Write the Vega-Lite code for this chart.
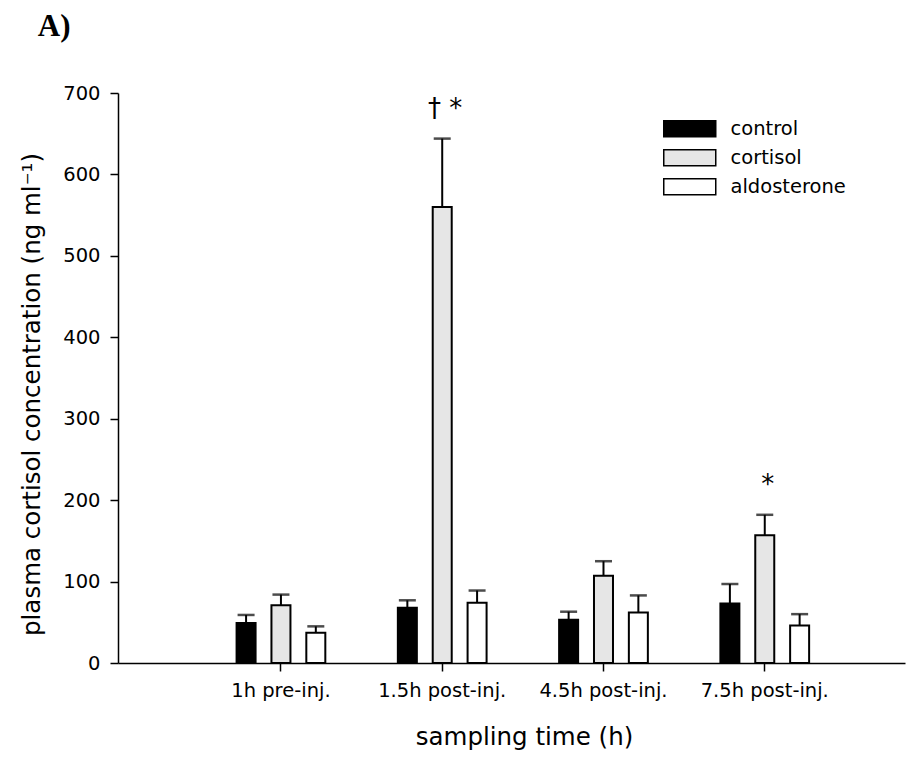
{
  "$schema": "https://vega.github.io/schema/vega-lite/v6.json",
  "autosize": "none",
  "width": 787,
  "height": 570,
  "padding": {"left": 118, "top": 93, "right": 16, "bottom": 98},
  "background": "white",
  "title": {
    "text": "A)",
    "anchor": "start",
    "frame": "bounds",
    "font": "Liberation Serif",
    "fontSize": 31,
    "fontWeight": "bold",
    "color": "black",
    "offset": 40,
    "dx": 18
  },
  "config": {
    "view": {"stroke": null},
    "axis": {
      "labelFont": "DejaVu Sans",
      "titleFont": "DejaVu Sans",
      "labelColor": "black",
      "titleColor": "black",
      "domainColor": "black",
      "tickColor": "black",
      "grid": false,
      "titleFontWeight": "normal",
      "labelFontSize": 19.5,
      "titleFontSize": 24.5
    },
    "legend": {"labelFont": "DejaVu Sans", "labelColor": "black", "labelFontSize": 19.5}
  },
  "datasets": {
    "bars": [
      {"time": "1h pre-inj.", "group": "control", "mean": 49, "upper": 59},
      {"time": "1h pre-inj.", "group": "cortisol", "mean": 71, "upper": 84},
      {"time": "1h pre-inj.", "group": "aldosterone", "mean": 37, "upper": 45},
      {"time": "1.5h post-inj.", "group": "control", "mean": 68, "upper": 77},
      {"time": "1.5h post-inj.", "group": "cortisol", "mean": 560, "upper": 644},
      {"time": "1.5h post-inj.", "group": "aldosterone", "mean": 74, "upper": 89},
      {"time": "4.5h post-inj.", "group": "control", "mean": 53, "upper": 63},
      {"time": "4.5h post-inj.", "group": "cortisol", "mean": 107, "upper": 125},
      {"time": "4.5h post-inj.", "group": "aldosterone", "mean": 62, "upper": 83},
      {"time": "7.5h post-inj.", "group": "control", "mean": 73, "upper": 97},
      {"time": "7.5h post-inj.", "group": "cortisol", "mean": 157, "upper": 182},
      {"time": "7.5h post-inj.", "group": "aldosterone", "mean": 46, "upper": 60}
    ],
    "notes": [
      {"time": "1.5h post-inj.", "group": "cortisol", "upper": 644, "label": "†  *"},
      {"time": "7.5h post-inj.", "group": "cortisol", "upper": 182, "label": "*"}
    ]
  },
  "encoding": {
    "x": {
      "field": "time",
      "type": "nominal",
      "sort": ["1h pre-inj.", "1.5h post-inj.", "4.5h post-inj.", "7.5h post-inj."],
      "scale": {"paddingInner": 0, "paddingOuter": 0.44, "align": 0.58},
      "axis": {
        "title": "sampling time (h)",
        "titlePadding": 26,
        "titleX": 406,
        "labelAngle": 0,
        "labelPadding": 10,
        "tickSize": 8,
        "tickWidth": 1.5,
        "domainWidth": 1.5
      }
    },
    "xOffset": {
      "field": "group",
      "type": "nominal",
      "scale": {"domain": ["control", "cortisol", "aldosterone"], "paddingInner": 0.375, "paddingOuter": 1.2}
    }
  },
  "layer": [
    {
      "data": {"name": "bars"},
      "mark": {"type": "rule", "stroke": "black", "strokeWidth": 2},
      "encoding": {
        "y": {"field": "mean", "type": "quantitative"},
        "y2": {"field": "upper"}
      }
    },
    {
      "data": {"name": "bars"},
      "mark": {"type": "tick", "orient": "horizontal", "size": 17, "thickness": 2.5, "color": "black"},
      "encoding": {
        "y": {"field": "upper", "type": "quantitative"}
      }
    },
    {
      "data": {"name": "bars"},
      "mark": {"type": "bar", "stroke": "black", "strokeWidth": 2, "width": 19},
      "encoding": {
        "y": {
          "field": "mean",
          "type": "quantitative",
          "scale": {"domain": [0, 700], "nice": false},
          "axis": {
            "title": "plasma cortisol concentration (ng ml⁻¹)",
            "titlePadding": 18,
            "titleY": 301,
            "labelPadding": 10,
            "values": [0, 100, 200, 300, 400, 500, 600, 700],
            "tickSize": 8,
            "tickWidth": 1.5,
            "domainWidth": 1.5
          }
        },
        "fill": {
          "field": "group",
          "type": "nominal",
          "scale": {"domain": ["control", "cortisol", "aldosterone"], "range": ["black", "#e6e6e6", "white"]},
          "legend": {
            "title": null,
            "orient": "none",
            "legendX": 562,
            "legendY": 26,
            "symbolType": "M-3.25,-1H3.25V1H-3.25Z",
            "symbolSize": 256,
            "symbolStrokeColor": "black",
            "symbolStrokeWidth": 1.5,
            "symbolOpacity": 1,
            "labelOffset": 31,
            "rowPadding": 6
          }
        }
      }
    },
    {
      "data": {"name": "notes"},
      "mark": {"type": "text", "font": "DejaVu Sans", "fontSize": 26, "dy": -30, "dx": 3, "baseline": "middle", "color": "black"},
      "encoding": {
        "y": {"field": "upper", "type": "quantitative"},
        "text": {"field": "label"}
      }
    }
  ]
}
